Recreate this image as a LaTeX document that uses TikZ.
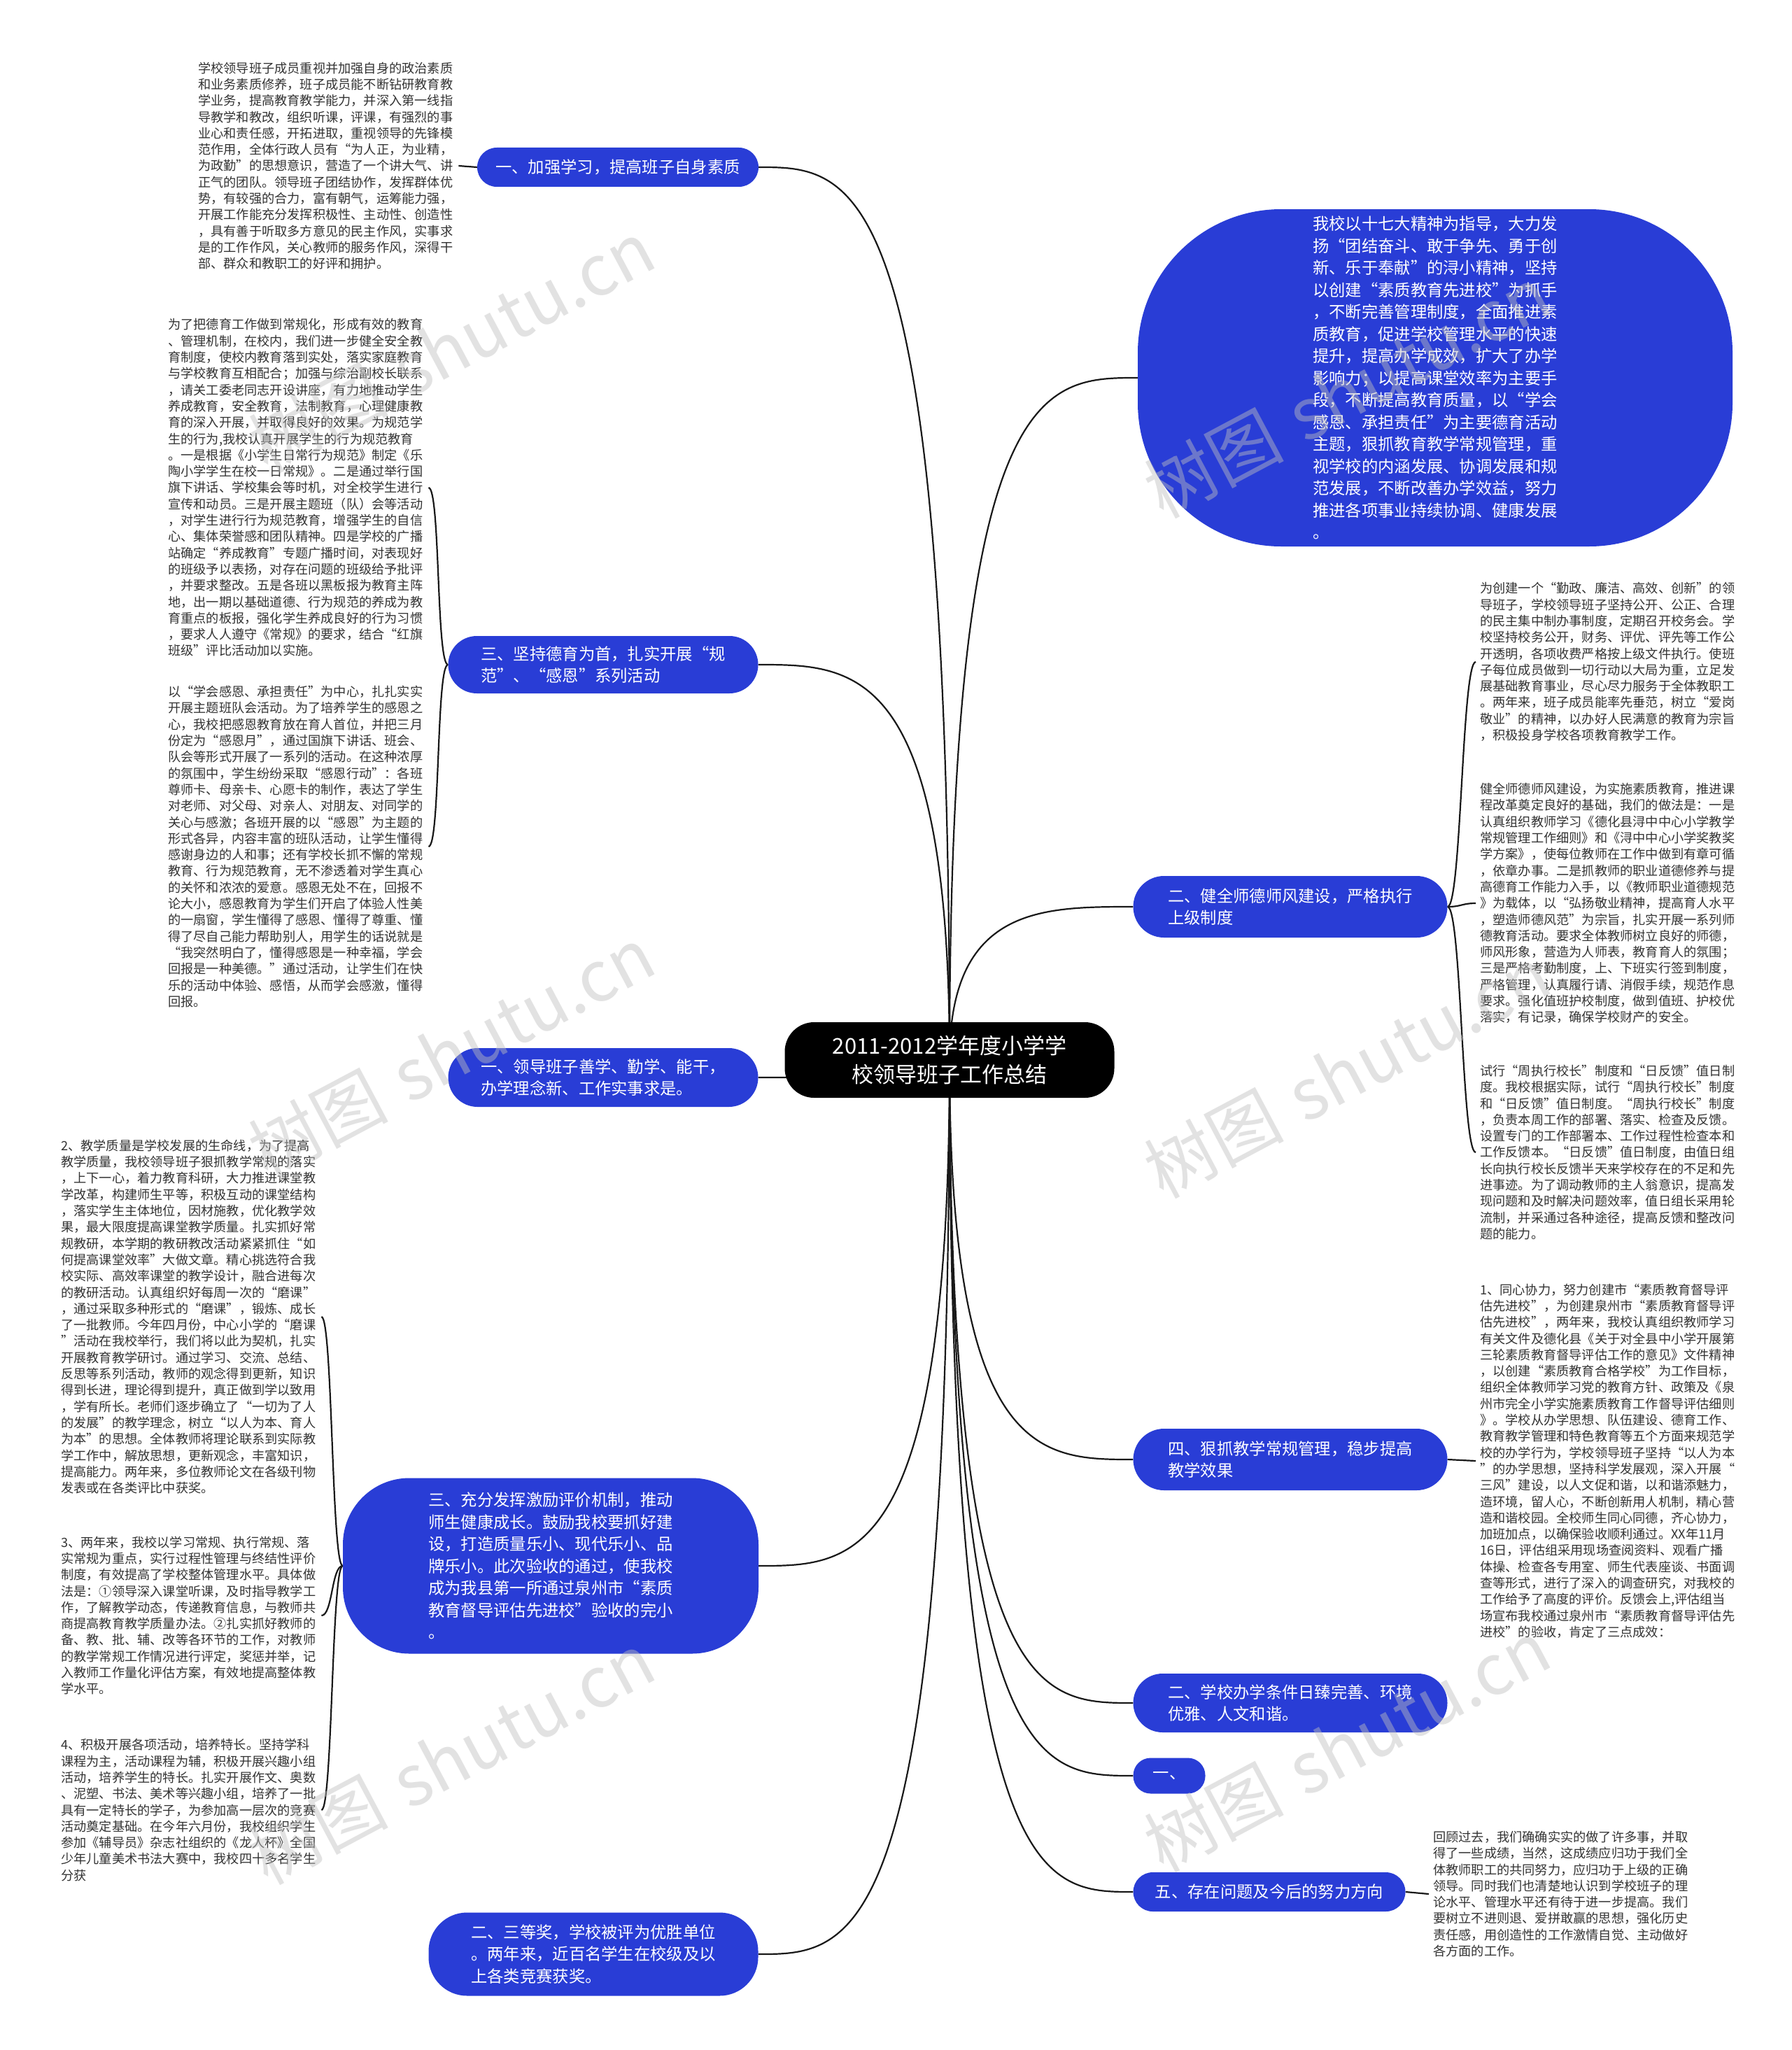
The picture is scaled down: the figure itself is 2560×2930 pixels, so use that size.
\documentclass[tikz,border=0pt]{standalone}
\usepackage{fontspec}
\setmainfont{Noto Sans CJK SC}
\usetikzlibrary{backgrounds,calc}
\definecolor{nodeblue}{RGB}{41,61,214}
\definecolor{txtgray}{RGB}{51,51,51}
\definecolor{linegray}{RGB}{25,25,25}
\begin{document}
\begin{tikzpicture}[x=1pt,y=-1pt,
  rootbox/.style={fill=black, text=white, inner sep=0pt, align=center, rounded corners=42pt,
    minimum width=471pt, minimum height=108pt, font=\fontsize{31}{41}\selectfont},
  branch/.style={fill=nodeblue, text=white, inner sep=0pt, align=left,
    font=\fontsize{23.3}{31.5}\selectfont},
  leaf/.style={text=txtgray, inner xsep=6pt, inner ysep=2pt, align=left, text width=366pt,
    font=\fontsize{18.2}{23.3}\selectfont, anchor=west},
  link/.style={draw=linegray, line width=2.2pt},
  wm/.style={rotate=28, text=black!25, opacity=0.45, inner sep=0pt,
    font=\fontsize{100}{100}\selectfont}
]
\useasboundingbox (0,0) rectangle (2560,2930);

% root
\node[rootbox] (root) at (1357,1515) {2011-2012学年度小学学\\校领导班子工作总结};

% left branches
\node[branch, minimum width=402pt, minimum height=56pt, rounded corners=28pt] (n1) at (883,239)
  {一、加强学习，提高班子自身素质};
\node[branch, minimum width=443pt, minimum height=82pt, rounded corners=41pt] (n2) at (862,950)
  {三、坚持德育为首，扎实开展“规\\范”、“感恩”系列活动};
\node[branch, minimum width=443pt, minimum height=84pt, rounded corners=42pt] (n3) at (862,1540)
  {一、领导班子善学、勤学、能干，\\办学理念新、工作实事求是。};
\node[branch, minimum width=594pt, minimum height=251pt, rounded corners=95pt] (n4) at (787,2238)
  {三、充分发挥激励评价机制，推动\\师生健康成长。鼓励我校要抓好建\\设，打造质量乐小、现代乐小、品\\牌乐小。此次验收的通过，使我校\\成为我县第一所通过泉州市“素质\\教育督导评估先进校”验收的完小\\。};
\node[branch, minimum width=471pt, minimum height=119pt, rounded corners=55pt] (n5) at (848,2793)
  {二、三等奖，学校被评为优胜单位\\。两年来，近百名学生在校级及以\\上各类竞赛获奖。};

% right branches
\node[branch, minimum width=850pt, minimum height=482pt, rounded corners=205pt] (n6) at (2051,540)
  {我校以十七大精神为指导，大力发\\扬“团结奋斗、敢于争先、勇于创\\新、乐于奉献”的浔小精神，坚持\\以创建“素质教育先进校”为抓手\\，不断完善管理制度，全面推进素\\质教育，促进学校管理水平的快速\\提升，提高办学成效，扩大了办学\\影响力；以提高课堂效率为主要手\\段，不断提高教育质量，以“学会\\感恩、承担责任”为主要德育活动\\主题，狠抓教育教学常规管理，重\\视学校的内涵发展、协调发展和规\\范发展，不断改善办学效益，努力\\推进各项事业持续协调、健康发展\\。};
\node[branch, minimum width=449pt, minimum height=88pt, rounded corners=44pt] (n7) at (1844,1296)
  {二、健全师德师风建设，严格执行\\上级制度};
\node[branch, minimum width=449pt, minimum height=88pt, rounded corners=44pt] (n8) at (1844,2086)
  {四、狠抓教学常规管理，稳步提高\\教学效果};
\node[branch, minimum width=449pt, minimum height=84pt, rounded corners=42pt] (n9) at (1844,2434)
  {二、学校办学条件日臻完善、环境\\优雅、人文和谐。};
\node[branch, minimum width=103pt, minimum height=51pt, rounded corners=25pt] (n10) at (1671,2538)
  {一、};
\node[branch, minimum width=389pt, minimum height=56pt, rounded corners=28pt] (n11) at (1814,2704)
  {五、存在问题及今后的努力方向};

% left text blocks
\node[leaf] (ta) at (277,237) {学校领导班子成员重视并加强自身的政治素质\\和业务素质修养，班子成员能不断钻研教育教\\学业务，提高教育教学能力，并深入第一线指\\导教学和教改，组织听课，评课，有强烈的事\\业心和责任感，开拓进取，重视领导的先锋模\\范作用，全体行政人员有“为人正，为业精，\\为政勤”的思想意识，营造了一个讲大气、讲\\正气的团队。领导班子团结协作，发挥群体优\\势，有较强的合力，富有朝气，运筹能力强，\\开展工作能充分发挥积极性、主动性、创造性\\，具有善于听取多方意见的民主作风，实事求\\是的工作作风，关心教师的服务作风，深得干\\部、群众和教职工的好评和拥护。};
\node[leaf] (tb) at (234,697) {为了把德育工作做到常规化，形成有效的教育\\、管理机制，在校内，我们进一步健全安全教\\育制度，使校内教育落到实处，落实家庭教育\\与学校教育互相配合；加强与综治副校长联系\\，请关工委老同志开设讲座，有力地推动学生\\养成教育，安全教育，法制教育，心理健康教\\育的深入开展，并取得良好的效果。为规范学\\生的行为,我校认真开展学生的行为规范教育\\。一是根据《小学生日常行为规范》制定《乐\\陶小学学生在校一日常规》。二是通过举行国\\旗下讲话、学校集会等时机，对全校学生进行\\宣传和动员。三是开展主题班（队）会等活动\\，对学生进行行为规范教育，增强学生的自信\\心、集体荣誉感和团队精神。四是学校的广播\\站确定“养成教育”专题广播时间，对表现好\\的班级予以表扬，对存在问题的班级给予批评\\，并要求整改。五是各班以黑板报为教育主阵\\地，出一期以基础道德、行为规范的养成为教\\育重点的板报，强化学生养成良好的行为习惯\\，要求人人遵守《常规》的要求，结合“红旗\\班级”评比活动加以实施。};
\node[leaf] (tc) at (234,1210) {以“学会感恩、承担责任”为中心，扎扎实实\\开展主题班队会活动。为了培养学生的感恩之\\心，我校把感恩教育放在育人首位，并把三月\\份定为“感恩月”，通过国旗下讲话、班会、\\队会等形式开展了一系列的活动。在这种浓厚\\的氛围中，学生纷纷采取“感恩行动”：各班\\尊师卡、母亲卡、心愿卡的制作，表达了学生\\对老师、对父母、对亲人、对朋友、对同学的\\关心与感激；各班开展的以“感恩”为主题的\\形式各异，内容丰富的班队活动，让学生懂得\\感谢身边的人和事；还有学校长抓不懈的常规\\教育、行为规范教育，无不渗透着对学生真心\\的关怀和浓浓的爱意。感恩无处不在，回报不\\论大小，感恩教育为学生们开启了体验人性美\\的一扇窗，学生懂得了感恩、懂得了尊重、懂\\得了尽自己能力帮助别人，用学生的话说就是\\“我突然明白了，懂得感恩是一种幸福，学会\\回报是一种美德。”通过活动，让学生们在快\\乐的活动中体验、感悟，从而学会感激，懂得\\回报。};
\node[leaf] (td) at (81,1882) {2、教学质量是学校发展的生命线，为了提高\\教学质量，我校领导班子狠抓教学常规的落实\\，上下一心，着力教育科研，大力推进课堂教\\学改革，构建师生平等，积极互动的课堂结构\\，落实学生主体地位，因材施教，优化教学效\\果，最大限度提高课堂教学质量。扎实抓好常\\规教研，本学期的教研教改活动紧紧抓住“如\\何提高课堂效率”大做文章。精心挑选符合我\\校实际、高效率课堂的教学设计，融合进每次\\的教研活动。认真组织好每周一次的“磨课”\\，通过采取多种形式的“磨课”，锻炼、成长\\了一批教师。今年四月份，中心小学的“磨课\\”活动在我校举行，我们将以此为契机，扎实\\开展教育教学研讨。通过学习、交流、总结、\\反思等系列活动，教师的观念得到更新，知识\\得到长进，理论得到提升，真正做到学以致用\\，学有所长。老师们逐步确立了“一切为了人\\的发展”的教学理念，树立“以人为本、育人\\为本”的思想。全体教师将理论联系到实际教\\学工作中，解放思想，更新观念，丰富知识，\\提高能力。两年来，多位教师论文在各级刊物\\发表或在各类评比中获奖。};
\node[leaf] (te) at (81,2309) {3、两年来，我校以学习常规、执行常规、落\\实常规为重点，实行过程性管理与终结性评价\\制度，有效提高了学校整体管理水平。具体做\\法是：①领导深入课堂听课，及时指导教学工\\作，了解教学动态，传递教育信息，与教师共\\商提高教育教学质量办法。②扎实抓好教师的\\备、教、批、辅、改等各环节的工作，对教师\\的教学常规工作情况进行评定，奖惩并举，记\\入教师工作量化评估方案，有效地提高整体教\\学水平。};
\node[leaf] (tf) at (81,2587) {4、积极开展各项活动，培养特长。坚持学科\\课程为主，活动课程为辅，积极开展兴趣小组\\活动，培养学生的特长。扎实开展作文、奥数\\、泥塑、书法、美术等兴趣小组，培养了一批\\具有一定特长的学子，为参加高一层次的竞赛\\活动奠定基础。在今年六月份，我校组织学生\\参加《辅导员》杂志社组织的《龙人杯》全国\\少年儿童美术书法大赛中，我校四十多名学生\\分获};

% right text blocks
\node[leaf] (tg) at (2109,946) {为创建一个“勤政、廉洁、高效、创新”的领\\导班子，学校领导班子坚持公开、公正、合理\\的民主集中制办事制度，定期召开校务会。学\\校坚持校务公开，财务、评优、评先等工作公\\开透明，各项收费严格按上级文件执行。使班\\子每位成员做到一切行动以大局为重，立足发\\展基础教育事业，尽心尽力服务于全体教职工\\。两年来，班子成员能率先垂范，树立“爱岗\\敬业”的精神，以办好人民满意的教育为宗旨\\，积极投身学校各项教育教学工作。};
\node[leaf] (th) at (2109,1291) {健全师德师风建设，为实施素质教育，推进课\\程改革奠定良好的基础，我们的做法是：一是\\认真组织教师学习《德化县浔中中心小学教学\\常规管理工作细则》和《浔中中心小学奖教奖\\学方案》，使每位教师在工作中做到有章可循\\，依章办事。二是抓教师的职业道德修养与提\\高德育工作能力入手，以《教师职业道德规范\\》为载体，以“弘扬敬业精神，提高育人水平\\，塑造师德风范”为宗旨，扎实开展一系列师\\德教育活动。要求全体教师树立良好的师德，\\师风形象，营造为人师表，教育育人的氛围；\\三是严格考勤制度，上、下班实行签到制度，\\严格管理，认真履行请、消假手续，规范作息\\要求。强化值班护校制度，做到值班、护校优\\落实，有记录，确保学校财产的安全。};
\node[leaf] (ti) at (2109,1647) {试行“周执行校长”制度和“日反馈”值日制\\度。我校根据实际，试行“周执行校长”制度\\和“日反馈”值日制度。“周执行校长”制度\\，负责本周工作的部署、落实、检查及反馈。\\设置专门的工作部署本、工作过程性检查本和\\工作反馈本。“日反馈”值日制度，由值日组\\长向执行校长反馈半天来学校存在的不足和先\\进事迹。为了调动教师的主人翁意识，提高发\\现问题和及时解决问题效率，值日组长采用轮\\流制，并采通过各种途径，提高反馈和整改问\\题的能力。};
\node[leaf] (tj) at (2109,2088) {1、同心协力，努力创建市“素质教育督导评\\估先进校”，为创建泉州市“素质教育督导评\\估先进校”，两年来，我校认真组织教师学习\\有关文件及德化县《关于对全县中小学开展第\\三轮素质教育督导评估工作的意见》文件精神\\，以创建“素质教育合格学校”为工作目标，\\组织全体教师学习党的教育方针、政策及《泉\\州市完全小学实施素质教育工作督导评估细则\\》。学校从办学思想、队伍建设、德育工作、\\教育教学管理和特色教育等五个方面来规范学\\校的办学行为，学校领导班子坚持“以人为本\\”的办学思想，坚持科学发展观，深入开展“\\三风”建设，以人文促和谐，以和谐添魅力，\\造环境，留人心，不断创新用人机制，精心营\\造和谐校园。全校师生同心同德，齐心协力，\\加班加点，以确保验收顺利通过。XX年11月\\16日，评估组采用现场查阅资料、观看广播\\体操、检查各专用室、师生代表座谈、书面调\\查等形式，进行了深入的调查研究，对我校的\\工作给予了高度的评价。反馈会上,评估组当\\场宣布我校通过泉州市“素质教育督导评估先\\进校”的验收，肯定了三点成效：};
\node[leaf] (tk) at (2042,2707) {回顾过去，我们确确实实的做了许多事，并取\\得了一些成绩，当然，这成绩应归功于我们全\\体教师职工的共同努力，应归功于上级的正确\\领导。同时我们也清楚地认识到学校班子的理\\论水平、管理水平还有待于进一步提高。我们\\要树立不进则退、爱拼敢赢的思想，强化历史\\责任感，用创造性的工作激情自觉、主动做好\\各方面的工作。};

% page background and connectors
\begin{scope}[on background layer]
  \fill[white] (0,0) rectangle (2560,2930);
  \foreach \c in {n1,n2,n3,n4,n5}
    \draw[link] (root.center) .. controls (root.center |- \c.east) and ($(root.center |- \c.east)!0.5!(\c.east)$) .. (\c.east);
  \foreach \c in {n6,n7,n8,n9,n10,n11}
    \draw[link] (root.center) .. controls (root.center |- \c.west) and ($(root.center |- \c.west)!0.5!(\c.west)$) .. (\c.west);
  \draw[link] (n1.west) -- (ta.east);
  \draw[link] (n2.west) .. controls +(-17,0) and +(17,0) .. (tb.east);
  \draw[link] (n2.west) .. controls +(-17,0) and +(17,0) .. (tc.east);
  \draw[link] (n4.west) .. controls +(-16,0) and +(16,0) .. (td.east);
  \draw[link] (n4.west) .. controls +(-16,0) and +(16,0) .. (te.east);
  \draw[link] (n4.west) .. controls +(-16,0) and +(16,0) .. (tf.east);
  \draw[link] (n7.east) .. controls +(20,0) and +(-20,0) .. (tg.west);
  \draw[link] (n7.east) .. controls +(20,0) and +(-20,0) .. (th.west);
  \draw[link] (n7.east) .. controls +(20,0) and +(-20,0) .. (ti.west);
  \draw[link] (n8.east) -- (tj.west);
  \draw[link] (n11.east) -- (tk.west);
\end{scope}

% watermarks
\node[wm] (wm1) at (645,495) {树图\hspace{0.3em}shutu.cn};
\node[wm] (wm2) at (645,1504) {树图\hspace{0.3em}shutu.cn};
\node[wm] (wm3) at (645,2513) {树图\hspace{0.3em}shutu.cn};
\node[wm] (wm4) at (1925,560) {树图\hspace{0.3em}shutu.cn};
\node[wm] (wm5) at (1925,1532) {树图\hspace{0.3em}shutu.cn};
\node[wm] (wm6) at (1925,2495) {树图\hspace{0.3em}shutu.cn};
\end{tikzpicture}
\end{document}
